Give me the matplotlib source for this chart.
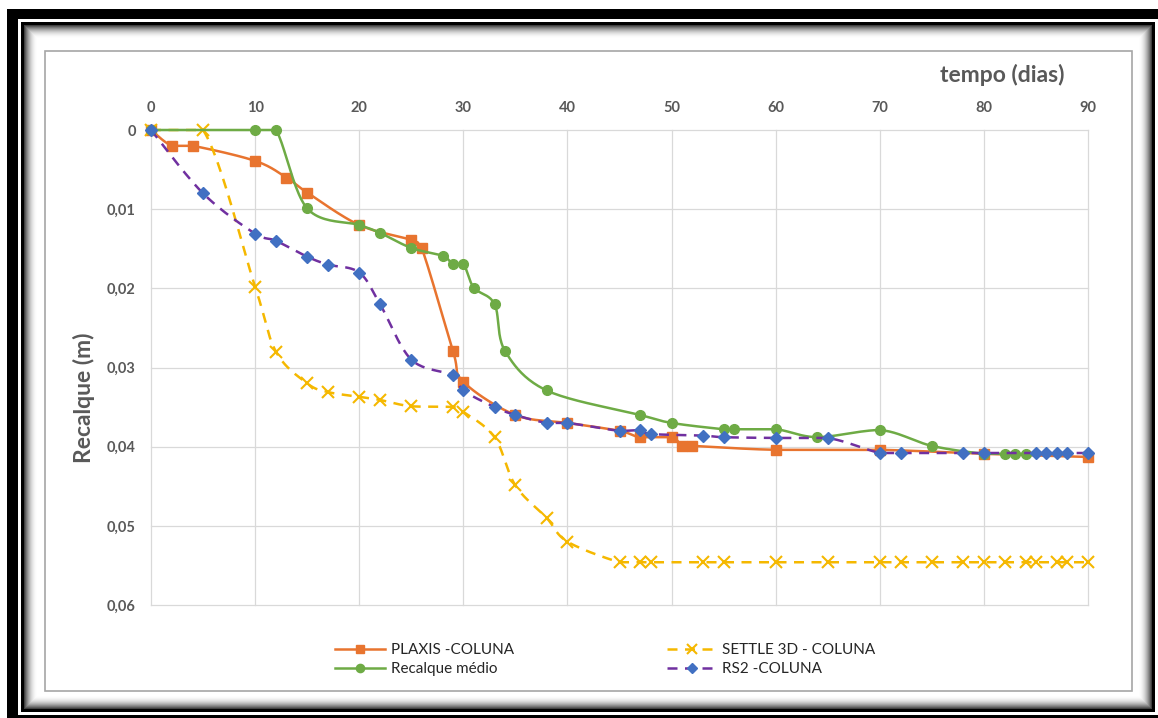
import numpy as np
import matplotlib
matplotlib.use("Agg")
import matplotlib.pyplot as plt
from matplotlib.lines import Line2D
from matplotlib.patches import Rectangle

# ---- data: settlement (m) versus time (days) ----
plaxis_t = [0, 2, 4, 10, 13, 15, 20, 25, 26, 29, 30, 35, 40, 45, 47, 50, 51, 52, 60, 70, 80, 90]
plaxis_s = [0, 0.002, 0.002, 0.0039, 0.006, 0.0079, 0.012, 0.0139, 0.0149, 0.0279, 0.0318,
            0.036, 0.037, 0.038, 0.0388, 0.0388, 0.0399, 0.0399, 0.0404, 0.0404, 0.0409, 0.0413]

settle_t = [0, 5, 10, 12, 15, 17, 20, 22, 25, 29, 30, 33, 35, 38, 40, 45, 47, 48, 53, 55,
            60, 65, 70, 72, 75, 78, 80, 82, 84, 85, 87, 88, 90]
settle_s = [0, 0, 0.0198, 0.028, 0.032, 0.0331, 0.0337, 0.0341, 0.0349, 0.035, 0.0356, 0.0388,
            0.0449, 0.049, 0.052, 0.0546, 0.0546, 0.0546, 0.0546, 0.0546,
            0.0546, 0.0546, 0.0546, 0.0546, 0.0546, 0.0546, 0.0546, 0.0546, 0.0546, 0.0546,
            0.0546, 0.0546, 0.0546]

medio_t = [0, 10, 12, 15, 20, 22, 25, 28, 29, 30, 31, 33, 34, 38, 47, 50, 55, 56, 60, 64,
           70, 75, 80, 82, 83, 84]
medio_s = [0, 0, 0, 0.0099, 0.012, 0.013, 0.0149, 0.0159, 0.0169, 0.0169, 0.0199, 0.022,
           0.0279, 0.0329, 0.036, 0.037, 0.0378, 0.0378, 0.0378, 0.0388, 0.0379, 0.0399,
           0.0409, 0.0409, 0.0409, 0.0409]

rs2_t = [0, 5, 10, 12, 15, 17, 20, 22, 25, 29, 30, 33, 35, 38, 40, 45, 47, 48, 53, 55, 60,
         65, 70, 72, 78, 80, 85, 86, 87, 88, 90]
rs2_s = [0, 0.008, 0.0131, 0.014, 0.016, 0.017, 0.018, 0.022, 0.029, 0.031, 0.0329, 0.035,
         0.036, 0.037, 0.037, 0.038, 0.0379, 0.0384, 0.0386, 0.0388, 0.0389, 0.0389, 0.0408,
         0.0408, 0.0408, 0.0408, 0.0408, 0.0408, 0.0408, 0.0408, 0.0408]

labels = ["PLAXIS -COLUNA", "SETTLE 3D - COLUNA", "Recalque médio", "RS2 -COLUNA"]

x_ticks = [0, 10, 20, 30, 40, 50, 60, 70, 80, 90]
x_ticklabels = ["0", "10", "20", "30", "40", "50", "60", "70", "80", "90"]
y_ticks = [0, 0.01, 0.02, 0.03, 0.04, 0.05, 0.06]
y_ticklabels = ["0", "0,01", "0,02", "0,03", "0,04", "0,05", "0,06"]

# ---- styling ----
C_ORANGE = "#E8742F"
C_YELLOW = "#F5B800"
C_GREEN = "#6EAB45"
C_PURPLE = "#7030A0"
C_BLUE = "#4170C2"
C_TEXT = "#595959"
FONT = "Lato"

W, H = 1158, 718
fig = plt.figure(figsize=(W / 100, H / 100), dpi=100)
fig.patch.set_facecolor("white")


def smooth(x, y, n=24):
    """Bezier smoothing through every point; control points are kept
    within each segment's vertical range so flat runs stay flat."""
    p = np.column_stack([x, y]).astype(float)
    out = [p[0]]
    t = np.linspace(0, 1, n)[1:]
    for i in range(len(p) - 1):
        p0 = p[i - 1] if i > 0 else p[i]
        p1, p2 = p[i], p[i + 1]
        p3 = p[i + 2] if i + 2 < len(p) else p[i + 1]
        c1 = p1 + (p2 - p0) / 6.0
        c2 = p2 - (p3 - p1) / 6.0
        lo, hi = min(p1[1], p2[1]), max(p1[1], p2[1])
        c1[1] = np.clip(c1[1], lo, hi)
        c2[1] = np.clip(c2[1], lo, hi)
        seg = (((1 - t) ** 3)[:, None] * p1 + (3 * (1 - t) ** 2 * t)[:, None] * c1
               + (3 * (1 - t) * t ** 2)[:, None] * c2 + (t ** 3)[:, None] * p2)
        out.extend(seg)
    out = np.array(out)
    return out[:, 0], out[:, 1]


# ---- picture frame around the chart ----
frame = np.ones((H, W, 3))
frame[9:, 7:] = 0.0
frame[19:715, 18:] = 1.0
frame[22:712, 21:1155] = 0.0
r0, r1, c0, c1 = 25, 709, 24, 1152
rows = np.arange(r0, r1)[:, None]
cols = np.arange(c0, c1)[None, :]
d = np.minimum(np.minimum(rows - r0, r1 - 1 - rows), np.minimum(cols - c0, c1 - 1 - cols))
shade = 1 - 0.75 * (1 - np.clip(d / 13.0, 0, 1)) ** 2
frame[r0:r1, c0:c1] = shade[:, :, None]
fig.figimage(frame, 0, 0, origin="upper", zorder=0)

# chart-area border
fig.add_artist(Rectangle((45 / W, 1 - 691 / H), (1132 - 45) / W, (691 - 51) / H,
                         transform=fig.transFigure, fill=False, ec="#A6A6A6", lw=1.2,
                         zorder=1))

# ---- plot area ----
ax = fig.add_axes([151 / W, 1 - 605 / H, (1088 - 151) / W, (605 - 130) / H], zorder=2)
ax.set_facecolor("none")
ax.set_xlim(0, 90)
ax.set_ylim(0.06, 0)
ax.xaxis.tick_top()
ax.set_xticks(x_ticks)
ax.set_xticklabels(x_ticklabels)
ax.set_yticks(y_ticks)
ax.set_yticklabels(y_ticklabels)
ax.tick_params(length=0, colors=C_TEXT)
ax.tick_params(axis="x", pad=11)
ax.tick_params(axis="y", pad=11)
for lab in ax.get_xticklabels() + ax.get_yticklabels():
    lab.set_fontfamily(FONT)
    lab.set_fontweight("bold")
    lab.set_fontsize(10.5)
    lab.set_color(C_TEXT)
for s in ax.spines.values():
    s.set_visible(False)
ax.grid(True, color="#D9D9D9", lw=0.9)
ax.set_axisbelow(True)
for gl in ax.get_xgridlines() + ax.get_ygridlines():
    gl.set_clip_on(False)

# axis titles
fig.text(84 / W, 1 - 398 / H, "Recalque (m)", fontfamily=FONT, fontweight="bold",
         fontsize=16.5, color=C_TEXT, ha="center", va="center", rotation=90)
fig.text(1002 / W, 1 - 75 / H, "tempo (dias)", fontfamily=FONT, fontweight="bold",
         fontsize=16.5, color=C_TEXT, ha="center", va="center")

LW = 1.8
DASH = (4, 3)

# PLAXIS
sx, sy = smooth(plaxis_t, plaxis_s)
ax.plot(sx, sy, color=C_ORANGE, lw=LW, zorder=3, clip_on=False)
ax.plot(plaxis_t, plaxis_s, ls="none", marker="s", ms=7.2, color=C_ORANGE, zorder=3.1,
        clip_on=False)

# SETTLE 3D
sx, sy = smooth(settle_t, settle_s)
ax.plot(sx, sy, color=C_YELLOW, lw=LW, dashes=DASH, zorder=4, clip_on=False)
ax.plot(settle_t, settle_s, ls="none", marker="x", ms=9, mew=1.5, color=C_YELLOW,
        zorder=4.1, clip_on=False)

# Recalque médio
sx, sy = smooth(medio_t, medio_s)
ax.plot(sx, sy, color=C_GREEN, lw=LW, zorder=5, clip_on=False)
ax.plot(medio_t, medio_s, ls="none", marker="o", ms=7, color=C_GREEN, zorder=5.1,
        clip_on=False)

# RS2
sx, sy = smooth(rs2_t, rs2_s)
ax.plot(sx, sy, color=C_PURPLE, lw=LW, dashes=DASH, zorder=6, clip_on=False)
ax.plot(rs2_t, rs2_s, ls="none", marker="D", ms=6.2, color=C_BLUE, zorder=6.1,
        clip_on=False)

# ---- legend (two columns, row-wise order) ----
h_plaxis = Line2D([], [], color=C_ORANGE, lw=LW, marker="s", ms=7.2)
h_settle = Line2D([], [], color=C_YELLOW, lw=LW, dashes=DASH, marker="x", ms=9, mew=1.5)
h_medio = Line2D([], [], color=C_GREEN, lw=LW, marker="o", ms=7)
h_rs2 = Line2D([], [], color=C_PURPLE, lw=LW, dashes=DASH, marker="D", ms=6.2,
               markerfacecolor=C_BLUE, markeredgecolor=C_BLUE)
leg = fig.legend([h_plaxis, h_medio, h_settle, h_rs2],
                 [labels[0], labels[2], labels[1], labels[3]],
                 ncol=2, loc="upper left", bbox_to_anchor=(335 / W, 1 - 643 / H),
                 bbox_transform=fig.transFigure, frameon=False, borderpad=0,
                 borderaxespad=0, handlelength=3.3, handletextpad=0.35,
                 labelspacing=0.32, columnspacing=10.0, markerscale=0.85,
                 prop={"family": FONT, "size": 11})
for txt in leg.get_texts():
    txt.set_color("#262626")

fig.savefig("out.png", dpi=100)
